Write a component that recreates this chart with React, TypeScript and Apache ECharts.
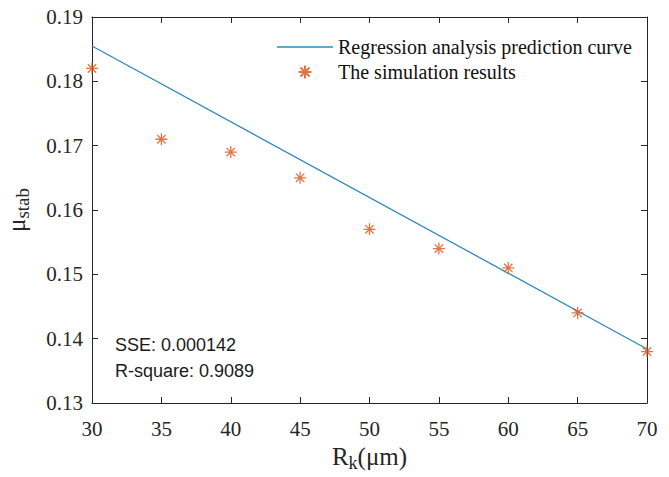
import React, { useEffect, useRef } from "react";
import * as echarts from "echarts";

const xTicks = [30, 35, 40, 45, 50, 55, 60, 65, 70];
const simX = [30, 35, 40, 45, 50, 55, 60, 65, 70];
const simY = [0.182, 0.171, 0.169, 0.165, 0.157, 0.154, 0.151, 0.144, 0.138];
const curveX = [30, 70];
const curveY = [0.1855, 0.1384];
const seriesNames = ["Regression analysis prediction curve", "The simulation results"];
const statsText = ["SSE: 0.000142", "R-square: 0.9089"];

const AXIS = "#262626";
const LINE = "#2f88c0";
const SERIF = "'Liberation Serif', 'Times New Roman', serif";
const SANS = "Liberation Sans";
const STAR = "path://M0,-10L0,10M-10,0L10,0M-7,-7L7,7M-7,7L7,-7";

export default function App() {
  const ref = useRef<HTMLDivElement>(null);
  useEffect(() => {
    if (!ref.current) return;
    const chart = echarts.init(ref.current, null, { renderer: "svg" });
    const axisCommon = {
      axisLine: { show: true, lineStyle: { color: AXIS, width: 1 } },
      axisTick: { show: true, inside: true, length: 6, lineStyle: { color: AXIS } },
      splitLine: { show: false },
    };
    chart.setOption({
      animation: false,
      backgroundColor: "#ffffff",
      textStyle: { fontFamily: SERIF },
      grid: { left: 92, right: 22, top: 17, bottom: 74, outerBoundsMode: "none", containLabel: false },
      legend: {
        orient: "vertical",
        left: 272,
        top: 32,
        itemWidth: 56,
        itemHeight: 13,
        itemGap: 5,
        textStyle: { fontFamily: SERIF, fontSize: 20, color: "#111" },
        data: [
          { name: seriesNames[0], icon: "path://M0,0H56V1.3H0Z" },
          { name: seriesNames[1] },
        ],
      },
      xAxis: [
        {
          type: "value",
          min: xTicks[0],
          max: xTicks[xTicks.length - 1],
          interval: 5,
          ...axisCommon,
          axisLabel: { fontFamily: SERIF, fontSize: 21, color: AXIS, margin: 15 },
          name: "{a|R}{b|k}{a|(μm)}",
          nameLocation: "middle",
          nameGap: 37,
          nameTextStyle: {
            fontFamily: SERIF,
            rich: {
              a: { fontFamily: SERIF, fontSize: 25, color: AXIS },
              b: { fontFamily: SERIF, fontSize: 18, color: AXIS, padding: [14, 0, 0, 0] },
            },
          },
        },
        {
          type: "value",
          position: "top",
          min: xTicks[0],
          max: xTicks[xTicks.length - 1],
          interval: 5,
          ...axisCommon,
          axisLabel: { show: false },
        },
      ],
      yAxis: [
        {
          type: "value",
          min: 0.13,
          max: 0.19,
          interval: 0.01,
          ...axisCommon,
          axisLabel: {
            fontFamily: SERIF,
            fontSize: 21,
            color: AXIS,
            margin: 9,
            formatter: (v: number) => v.toFixed(2),
          },
          name: "{a|μ}{b|stab}",
          nameLocation: "middle",
          nameGap: 60,
          nameTextStyle: {
            fontFamily: SERIF,
            rich: {
              a: { fontFamily: SERIF, fontSize: 25, color: AXIS },
              b: { fontFamily: SERIF, fontSize: 19, color: AXIS, padding: [12, 0, 0, 0] },
            },
          },
        },
        {
          type: "value",
          position: "right",
          min: 0.13,
          max: 0.19,
          interval: 0.01,
          ...axisCommon,
          axisLabel: { show: false },
        },
      ],
      series: [
        {
          name: seriesNames[0],
          type: "line",
          data: curveX.map((x, i) => [x, curveY[i]]),
          symbol: "none",
          lineStyle: { color: LINE, width: 1.3 },
          itemStyle: { color: LINE },
          z: 3,
        },
        {
          name: seriesNames[1],
          type: "scatter",
          data: simX.map((x, i) => [x, simY[i]]),
          symbol: STAR,
          symbolSize: 12,
          itemStyle: { color: "transparent", borderColor: "#D95319", borderWidth: 1.3 },
          z: 4,
        },
      ],
      graphic: [
        {
          type: "text",
          left: 115,
          top: 336,
          style: { text: statsText[0], fontFamily: SANS, fontSize: 18, fill: "#1a1a1a" },
        },
        {
          type: "text",
          left: 115,
          top: 362,
          style: { text: statsText[1], fontFamily: SANS, fontSize: 18, fill: "#1a1a1a" },
        },
      ],
    });
    return () => chart.dispose();
  }, []);
  return (
    <div
      ref={ref}
      style={{ position: "absolute", left: 0, top: 0, width: 669, height: 477 }}
    />
  );
}
